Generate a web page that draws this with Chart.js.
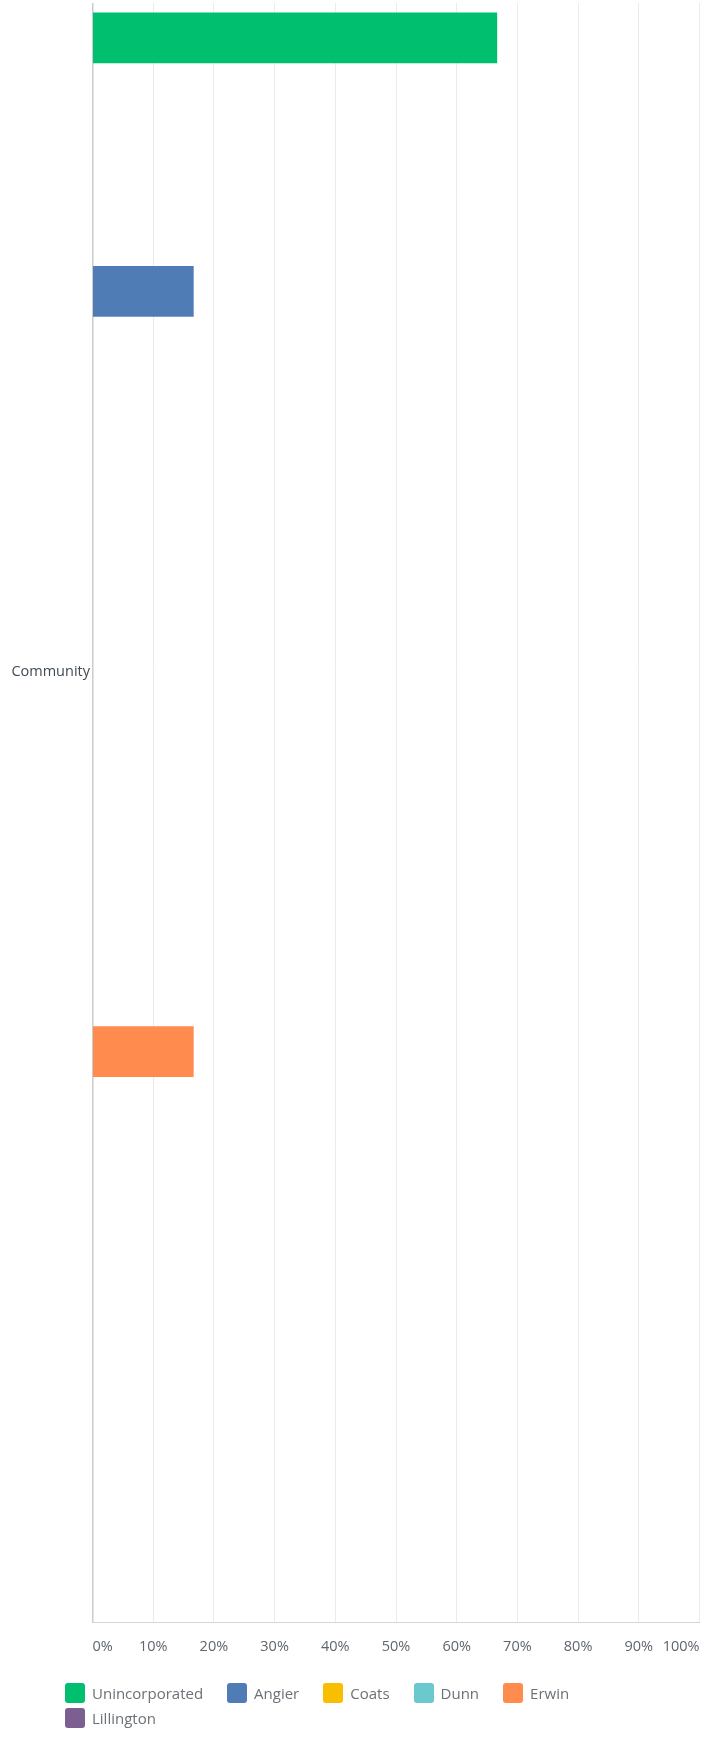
<!DOCTYPE html>
<html>
<head>
<meta charset="utf-8">
<script src="https://cdn.jsdelivr.net/npm/chart.js@4"></script>
<style>
  html, body { margin: 0; padding: 0; background: #fff; }
  body { width: 702px; height: 1739px; position: relative; overflow: hidden; }
  #grafico { position: absolute; left: 0; top: -299px; }
  #topo { position: absolute; left: 0; top: 0; width: 702px; height: 3px; background: #fff; }
  #legenda {
    position: absolute; left: 65px; top: 1683px; width: 560px;
    font-family: "Open Sans", sans-serif; font-size: 15px; color: #6b7176;
    display: flex; flex-wrap: wrap;
  }
  .item { display: flex; align-items: center; height: 20px; margin: 0 24px 5px 0; }
  .caixa { width: 20px; height: 20px; border-radius: 3px; margin-right: 7px; }
</style>
</head>
<body>
<canvas id="grafico" width="702" height="2038"></canvas>
<div id="topo"></div>
<div id="legenda"></div>
<script>
// dados (percentual por localidade)
const categorias = ['Community'];
const series = ['Unincorporated', 'Angier', 'Coats', 'Dunn', 'Erwin', 'Lillington'];
const valores = [66.67, 16.67, 0, 0, 16.67, 0];
const cores = ['#00bf6f', '#507cb6', '#f9be00', '#6bc8cd', '#ff8b4f', '#7d5e90'];
const ticksX = [0, 10, 20, 30, 40, 50, 60, 70, 80, 90, 100];

const datasets = series.map((nome, i) => ({
    label: nome,
    data: [valores[i]],
    backgroundColor: cores[i],
    borderWidth: 0,
    categoryPercentage: 0.8,
    barPercentage: 0.2
}));

const ctx = document.getElementById('grafico').getContext('2d');
const grafico = new Chart(ctx, {
    type: 'bar',
    data: { labels: categorias, datasets: datasets },
    options: {
        indexAxis: 'y',
        responsive: false,
        animation: false,
        layout: { padding: { top: 20, right: 2.5, bottom: 77, left: 0 } },
        plugins: { legend: { display: false }, tooltip: { enabled: false } },
        scales: {
            x: {
                min: 0,
                max: 100,
                afterBuildTicks: (escala) => { escala.ticks = ticksX.map(v => ({ value: v })); },
                afterFit: (escala) => { escala.height = 40; },
                grid: { color: '#ebebeb', lineWidth: 1, drawTicks: true, tickLength: 14, tickColor: 'rgba(0,0,0,0)' },
                border: { display: true, color: '#d4d4d4', width: 1 },
                ticks: {
                    align: 'inner',
                    padding: 2,
                    color: '#5f666d',
                    font: { family: 'Open Sans', size: 14.5 },
                    callback: (v) => v + '%'
                }
            },
            y: {
                afterFit: (escala) => { escala.width = 92.5; },
                grid: { display: false, drawTicks: false },
                border: { display: true, color: '#cccccc', width: 1.5 },
                ticks: {
                    padding: 2.5,
                    color: '#414b53',
                    font: { family: 'Open Sans', size: 14.5 }
                }
            }
        }
    }
});

// legenda em HTML, montada a partir dos datasets
const legenda = document.getElementById('legenda');
grafico.data.datasets.forEach(ds => {
    const item = document.createElement('div');
    item.className = 'item';
    item.innerHTML = `<span class="caixa" style="background:${ds.backgroundColor}"></span><span>${ds.label}</span>`;
    legenda.appendChild(item);
});
</script>
</body>
</html>
